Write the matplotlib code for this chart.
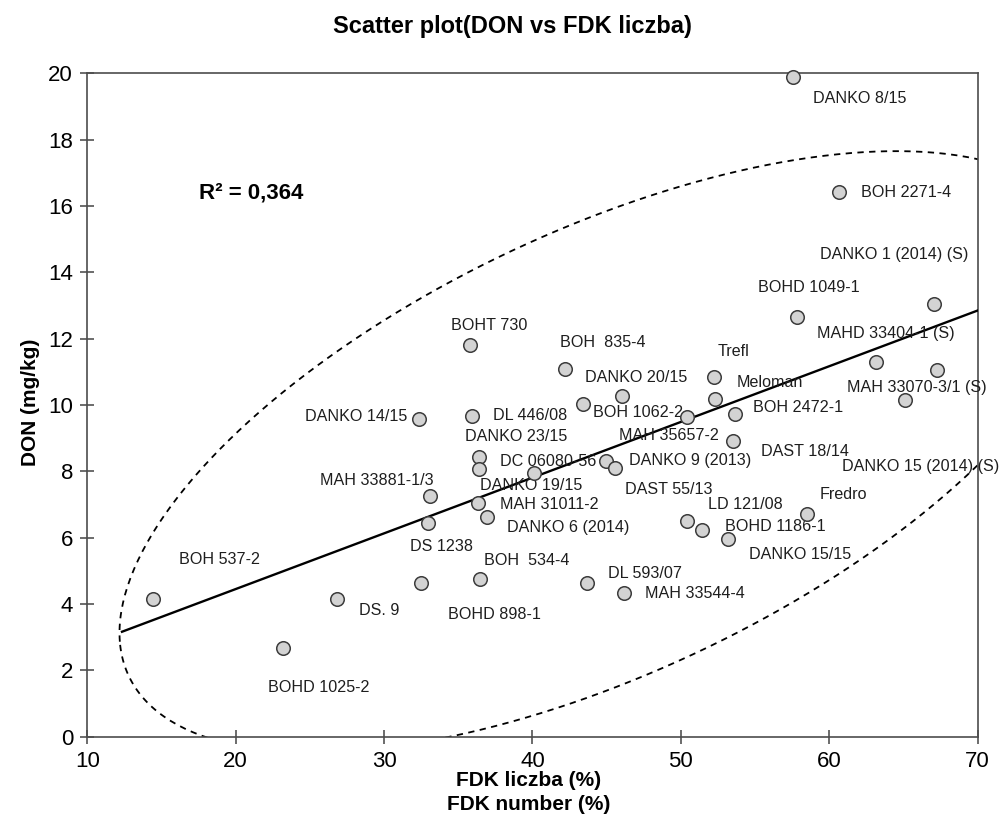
import numpy as np
import matplotlib
matplotlib.use("Agg")
import matplotlib.pyplot as plt

plt.rcParams['font.family'] = ['Liberation Sans', 'DejaVu Sans']

# FDK liczba (%) and DON (mg/kg) per line
names = ["DANKO 8/15", "BOH 2271-4", "DANKO 1 (2014) (S)", "BOHD 1049-1",
         "MAHD 33404-1 (S)", "MAH 33070-3/1 (S)", "DANKO 15 (2014) (S)", "Trefl",
         "Meloman", "BOH 2472-1", "MAH 35657-2", "DANKO 20/15", "DAST 18/14",
         "DANKO 9 (2013)", "DAST 55/13", "LD 121/08", "BOHD 1186-1", "DANKO 15/15",
         "Fredro", "MAH 33544-4", "BOHT 730", "BOH  835-4", "BOH 1062-2",
         "DANKO 14/15", "DL 446/08", "DANKO 23/15", "DC 06080-56", "DANKO 19/15",
         "MAH 33881-1/3", "MAH 31011-2", "DANKO 6 (2014)", "DS 1238", "BOH 537-2",
         "DS. 9", "BOHD 1025-2", "BOHD 898-1", "BOH  534-4", "DL 593/07"]
fdk = [57.55, 60.65, 67.05, 57.82, 63.14, 67.25, 65.10, 52.23,
       52.30, 53.65, 50.41, 46.03, 53.50, 44.95, 45.56, 50.41,
       51.42, 53.17, 58.49, 46.17, 35.79, 42.19, 43.40, 32.35,
       35.92, 36.40, 36.40, 40.10, 33.09, 36.33, 36.94, 32.95,
       14.41, 26.85, 23.20, 32.49, 36.46, 43.70]
don = [19.89, 16.42, 13.04, 12.65, 11.29, 11.05, 10.15, 10.84,
       10.18, 9.73, 9.64, 10.27, 8.91, 8.31, 8.10, 6.50,
       6.23, 5.96, 6.71, 4.33, 11.81, 11.08, 10.03, 9.58,
       9.67, 8.43, 8.07, 7.95, 7.25, 7.03, 6.62, 6.44,
       4.15, 4.14, 2.68, 4.64, 4.74, 4.62]

# label offsets from the point, in pixels (left edge, vertical centre)
lab_dx = [20, 22, -114, -39, -59, -90, -63, 4, 22, 18, -68, -37, 28, 23, 10, 21,
          23, 21, 13, 21, -19, -5, 10, -114, 21, -14, 21, -54, -110, 22, 20, -18,
          26, 22, -15, 27, 4, 21]
lab_dy = [-22, 0, 50, 30, 29, -17, -67, 26, 16, 6, -19, 18, -10, 0, -22, 16,
          3, -16, 20, -1, 19, 27, -9, 2, 0, 20, 7, -13, 16, -1, -11, -24,
          39, -11, -40, -32, 19, 10]

# linear trend (Excel) and the dashed ellipse
trend_a, trend_b = 1.087, 0.168
trend_x0 = 12.34
r2_text = "R² = 0,364"
ell_c = (44.84, 8.59)
ell_m = np.array([[0.07696, -0.1672], [-0.1672, 1.0]]) / 52.3

fig = plt.figure(figsize=(10.01, 8.18), dpi=100)
ax = fig.add_axes([0.0872, 0.0996, 0.8895, 0.8108])

w, v = np.linalg.eigh(ell_m)
t = np.linspace(0, 2 * np.pi, 400)
circ = np.vstack([np.cos(t), np.sin(t)])
pts = v @ (circ / np.sqrt(w)[:, None])
ax.plot(pts[0] + ell_c[0], pts[1] + ell_c[1], color='black', lw=1.3,
        ls=(0, (3.5, 3)), zorder=2)

tx = np.array([trend_x0, 70])
ax.plot(tx, trend_a + trend_b * tx, color='black', lw=1.7, zorder=3)

ax.scatter(fdk, don, s=95, facecolor='#d3d3d3', edgecolor='#3c3c3c',
           linewidth=1.1, zorder=4, clip_on=False)

for n, x, y, dx, dy in zip(names, fdk, don, lab_dx, lab_dy):
    ax.annotate(n, (x, y), xytext=(dx, dy), textcoords='offset pixels',
                ha='left', va='center', fontsize=11.6, color='#1e1e1e',
                annotation_clip=False)

ax.text(0.125, 0.82, r2_text, transform=ax.transAxes, fontsize=16,
        fontweight='bold', ha='left', va='center')

ax.set_xlim(10, 70)
ax.set_ylim(0, 20)
ax.set_xticks(range(10, 71, 10))
ax.set_yticks(range(0, 21, 2))
for s in ax.spines.values():
    s.set_color('#4d4d4d')
    s.set_linewidth(1.2)
ax.tick_params(direction='inout', length=10.5, width=1.1, color='#444444',
               labelsize=16, pad=5)

fig.text(0.512, 0.967, "Scatter plot(DON vs FDK liczba)", ha='center',
         va='center', fontsize=17, fontweight='bold')
fig.text(0.528, 0.046, "FDK liczba (%)", ha='center', va='center',
         fontsize=15, fontweight='bold')
fig.text(0.528, 0.016, "FDK number (%)", ha='center', va='center',
         fontsize=15, fontweight='bold')
fig.text(0.030, 0.508, "DON (mg/kg)", ha='center', va='center',
         rotation=90, fontsize=15, fontweight='bold')

fig.savefig("out.png", dpi=100)
